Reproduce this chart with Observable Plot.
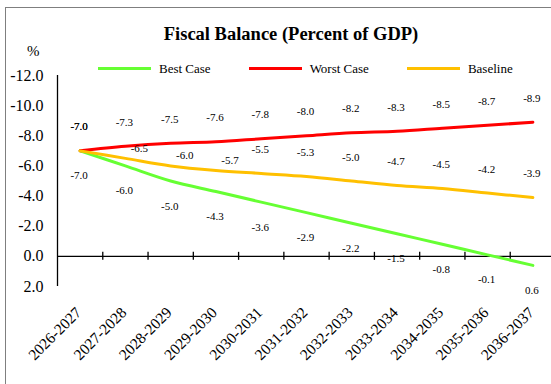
<!DOCTYPE html>
<html><head><meta charset="utf-8">
<script src="https://cdn.jsdelivr.net/npm/d3@7"></script>
<script src="https://cdn.jsdelivr.net/npm/@observablehq/plot@0.6"></script>
<style>
body{margin:0;background:#fff;}
#wrap{position:relative;width:551px;height:384px;overflow:hidden;font-family:'Liberation Serif','Times New Roman',serif;color:#000;}
#wrap svg{position:absolute;left:0;top:0;}
#border{position:absolute;left:5px;top:7px;width:600px;height:420px;border-top:1px solid #7f7f7f;border-left:1px solid #7f7f7f;}
#title{position:absolute;left:0;width:582px;top:24.5px;text-align:center;font-weight:bold;font-size:18.5px;line-height:1;}
#pct{position:absolute;left:27px;top:44px;font-size:15px;line-height:1;}
#legend{position:absolute;left:98px;top:61.8px;display:flex;align-items:center;font-size:13px;line-height:1;}
.item{display:flex;align-items:center;margin-right:38px;}
.sw{width:53px;height:3px;margin-right:8px;}
</style></head>
<body>
<div id="wrap">
  <div id="border"></div>
  <div id="chart"></div>
  <div id="title"></div>
  <div id="pct">%</div>
  <div id="legend"></div>
</div>
<script>
const title = "Fiscal Balance (Percent of GDP)";
const categories = ["2026-2027","2027-2028","2028-2029","2029-2030","2030-2031","2031-2032","2032-2033","2033-2034","2034-2035","2035-2036","2036-2037"];
const seriesNames = ["Best Case","Worst Case","Baseline"];
const seriesColors = ["#66FF33","#FF0000","#FFC000"];
const bestCase  = [-7.0,-6.0,-5.0,-4.3,-3.6,-2.9,-2.2,-1.5,-0.8,-0.1,0.6];
const worstCase = [-7.0,-7.3,-7.5,-7.6,-7.8,-8.0,-8.2,-8.3,-8.5,-8.7,-8.9];
const baseline  = [-7.0,-6.5,-6.0,-5.7,-5.5,-5.3,-5.0,-4.7,-4.5,-4.2,-3.9];
const yTicks = [-12,-10,-8,-6,-4,-2,0,2];

const toRows = (name, values) => values.map((v, i) => ({series: name, i, period: categories[i], value: v}));
const bestRows = toRows(seriesNames[0], bestCase);
const worstRows = toRows(seriesNames[1], worstCase);
const baseRows = toRows(seriesNames[2], baseline);
const allRows = [...bestRows, ...worstRows, ...baseRows];
const xDomain = [-0.5, categories.length - 0.5];
const boundaries = d3.range(1, categories.length + 1).map(i => i - 0.5);
const fmt = v => v.toFixed(1);

document.getElementById("title").textContent = title;
const legend = document.getElementById("legend");
seriesNames.forEach((n, k) => {
  const it = document.createElement("div"); it.className = "item";
  const sw = document.createElement("div"); sw.className = "sw"; sw.style.background = seriesColors[k];
  const tx = document.createElement("span"); tx.textContent = n;
  it.appendChild(sw); it.appendChild(tx); legend.appendChild(it);
});

const chart = Plot.plot({
  width: 551,
  height: 384,
  marginLeft: 57,
  marginRight: 0,
  marginTop: 75,
  marginBottom: 98,
  style: {fontFamily: "'Liberation Serif','Times New Roman',serif", fontSize: "11px", background: "transparent", color: "#000"},
  x: {domain: xDomain, range: [57, 555], axis: null},
  y: {domain: [-12, 2], reverse: true, axis: null},
  color: {domain: seriesNames, range: seriesColors},
  marks: [
    Plot.ruleX([xDomain[0]], {stroke: "#000", strokeWidth: 1.3}),
    Plot.ruleY([0], {stroke: "#000", strokeWidth: 1.3}),
    Plot.ruleX(boundaries, {x: d => d, y1: 0, y2: 0, insetTop: -4, insetBottom: -4, stroke: "#000", strokeWidth: 1.3}),
    Plot.axisY({ticks: yTicks, tickSize: 0, tickPadding: 14, tickFormat: fmt, fontSize: 16, label: null}),
    Plot.line(allRows, {x: "i", y: "value", z: "series", stroke: "series", strokeWidth: 3, curve: "catmull-rom", strokeLinecap: "round"}),
    Plot.text(worstRows, {x: "i", y: "value", text: d => fmt(d.value), dy: -24, dx: -1}),
    Plot.text(baseRows.filter(d => d.i < 1 || d.i > 3), {x: "i", y: "value", text: d => fmt(d.value), dy: -24, dx: -1}),
    Plot.text(baseRows.filter(d => d.i >= 1 && d.i <= 3), {x: "i", y: "value", text: d => fmt(d.value), dy: -10, dx: 14}),
    Plot.text(bestRows, {x: "i", y: "value", text: d => fmt(d.value), dy: 25, dx: -1}),
    Plot.text(categories, {x: (d, i) => i, frameAnchor: "bottom", text: d => d, rotate: -45, textAnchor: "end", dy: 27, dx: 2, fontSize: 15.5})
  ]
});
document.getElementById("chart").appendChild(chart);
</script>
</body></html>
